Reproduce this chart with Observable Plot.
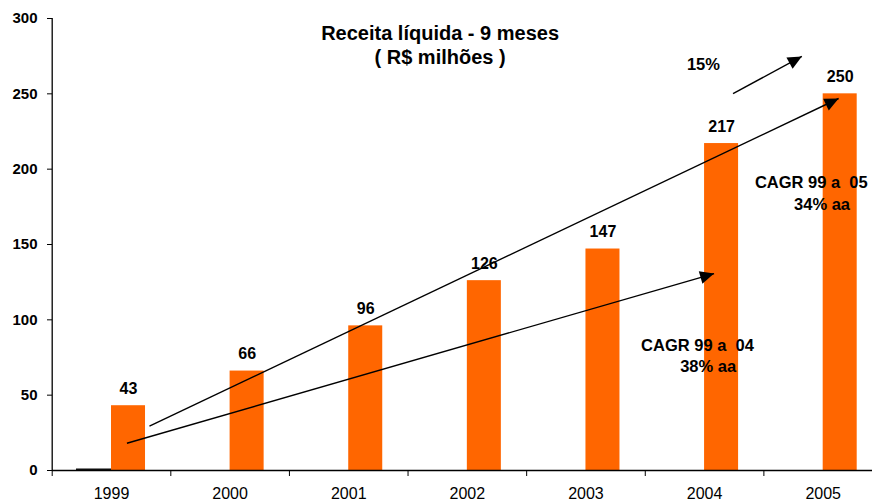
<!DOCTYPE html>
<html>
<head>
<meta charset="utf-8">
<script src="https://cdn.jsdelivr.net/npm/d3@7"></script>
<script src="https://cdn.jsdelivr.net/npm/@observablehq/plot@0.6"></script>
<style>
  html, body { margin: 0; padding: 0; background: white; }
  #chart svg { display: block; }
</style>
</head>
<body>
<div id="chart"></div>
<script>
// ---- data ----
const years = [1999, 2000, 2001, 2002, 2003, 2004, 2005];
const receita = [43, 66, 96, 126, 147, 217, 250];
const outra = [1, 0, 0, 0, 0, 0, 0];
const yTicks = [0, 50, 100, 150, 200, 250, 300];
const titleLines = ["Receita líquida - 9 meses", "( R$ milhões )"];

// annotation arrows (data coordinates: year, R$ milhões)
const arrows = [
  {x1: 1999.32, y1: 29.4, x2: 2005.13, y2: 246.9},
  {x1: 1999.13, y1: 18.1, x2: 2004.08, y2: 130.7},
  {x1: 2004.24, y1: 250.2, x2: 2004.82, y2: 274.8}
];
const notes = [
  {x: 2003.99, y: 265.5, text: "15%"},
  {x: 2004.90, y: 187.2, text: "CAGR 99 a  05"},
  {x: 2004.99, y: 172.6, text: "34% aa"},
  {x: 2003.94, y: 79.6, text: "CAGR 99 a  04"},
  {x: 2004.03, y: 65.2, text: "38% aa"}
];
const titlePos = [{x: 2001.77, y: 285.4}, {x: 2001.77, y: 270.1}];

const bars = years.map((year, i) => ({year, value: receita[i]}));
const bars2 = years.map((year, i) => ({year, value: outra[i]}));
const boundaries = [years[0] - 0.5, ...years.map(y => y + 0.5)];
const titles = titleLines.map((t, i) => ({...titlePos[i], text: t}));

const chart = Plot.plot({
  width: 872,
  height: 503,
  marginLeft: 52,
  marginRight: 0,
  marginTop: 18,
  marginBottom: 33,
  style: {fontFamily: "'Liberation Sans', Arial, sans-serif", color: "black", background: "white"},
  x: {domain: [1998.5, 2005.5], range: [51.7, 882]},
  y: {domain: [0, 300], range: [470, 18]},
  marks: [
    Plot.rectY(bars2, {x1: d => d.year - 0.5, x2: d => d.year + 0.5, y1: 0, y2: "value",
      insetLeft: 24.3, insetRight: 59.3, fill: "#111"}),
    Plot.rectY(bars, {x1: d => d.year - 0.5, x2: d => d.year + 0.5, y1: 0, y2: "value",
      insetLeft: 59.3, insetRight: 25.3, fill: "#ff6600"}),
    Plot.text(bars, {x: "year", y: "value", text: d => String(d.value), dx: 17, dy: -12,
      lineAnchor: "bottom", fontSize: 16, fontWeight: "bold", fill: "black"}),
    Plot.ruleY([0], {stroke: "black", strokeWidth: 1.3}),
    Plot.ruleX([1998.5], {stroke: "black", strokeWidth: 1.3}),
    Plot.axisY({ticks: yTicks, tickSize: 5, tickPadding: 10, fontSize: 15, fontWeight: "bold",
      tickFormat: d => String(d), label: null}),
    Plot.axisX({ticks: boundaries, tickSize: 6, tickFormat: () => "", label: null}),
    Plot.axisX({ticks: years, tickSize: 0, tickPadding: 17, fontSize: 16,
      tickFormat: d => String(d), label: null}),
    Plot.link(arrows, {x1: "x1", y1: "y1", x2: "x2", y2: "y2", stroke: "black",
      strokeWidth: 1.4, markerEnd: "arrow"}),
    Plot.text(notes, {x: "x", y: "y", text: "text", lineAnchor: "bottom",
      fontSize: 16.5, fontWeight: "bold", fill: "black"}),
    Plot.text(titles, {x: "x", y: "y", text: "text", lineAnchor: "bottom",
      fontSize: 20, fontWeight: "bold", fill: "black"})
  ]
});

// filled triangular arrowheads
d3.select(chart).selectAll("marker").each(function() {
  const m = d3.select(this);
  m.attr("viewBox", "-15 -8 16 16")
   .attr("markerWidth", 16)
   .attr("markerHeight", 16)
   .attr("markerUnits", "userSpaceOnUse")
   .attr("fill", "black")
   .attr("stroke", "none");
  m.selectAll("*").remove();
  m.append("path").attr("d", "M0,0L-14,-6.5L-14,6.5Z");
});

document.getElementById("chart").appendChild(chart);
</script>
</body>
</html>
